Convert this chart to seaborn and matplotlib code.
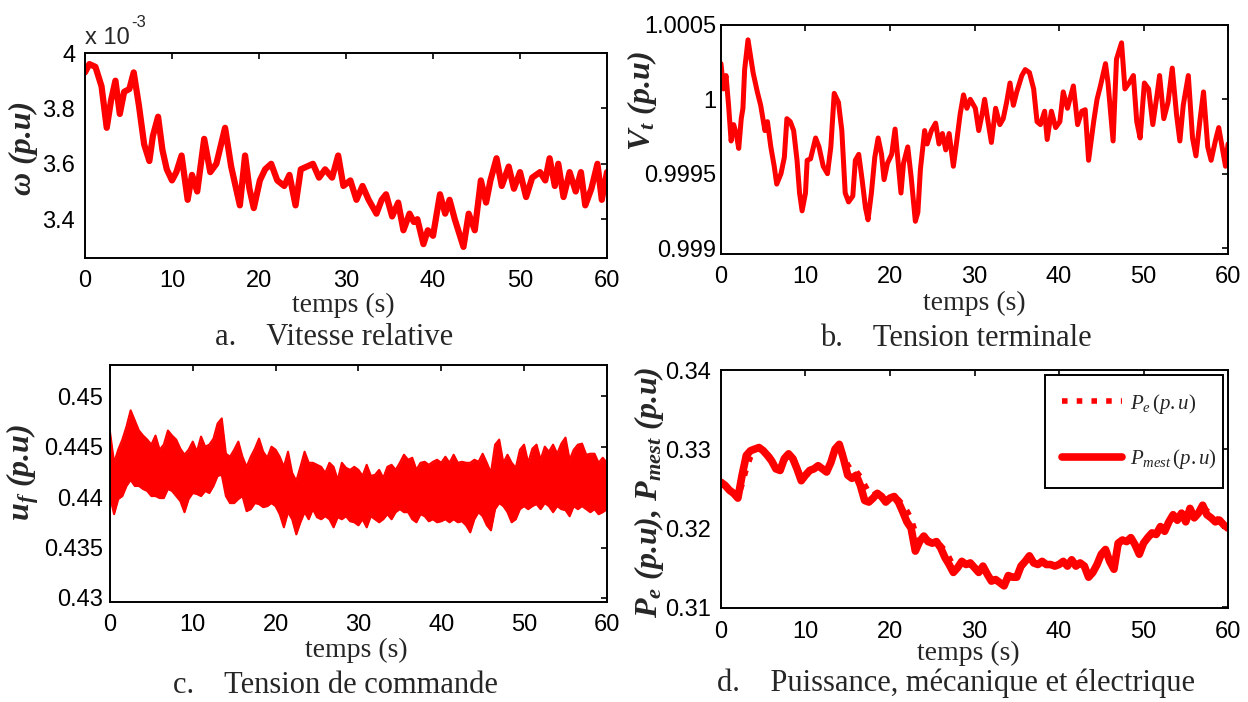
import numpy as np
import matplotlib
matplotlib.use('Agg')
import matplotlib.pyplot as plt
import seaborn as sns

# a. Vitesse relative  (omega, in units of 1e-3 p.u.)
a_t = [0, 0.5, 1.2, 1.9, 2.5, 3.0, 3.5, 4.0, 4.5, 5.1,
       5.6, 6.2, 6.8, 7.4, 7.8, 8.4, 8.9, 9.4, 10.0, 10.5,
       11.1, 11.8, 12.3, 12.9, 13.7, 14.4, 15.1, 16.1, 16.8, 17.3,
       17.8, 18.4, 18.9, 19.4, 20.1, 20.7, 21.4, 22.1, 22.9, 23.5,
       24.2, 24.8, 25.5, 26.2, 26.9, 27.6, 28.4, 29.1, 29.7, 30.5,
       31.2, 31.9, 32.6, 33.5, 34.1, 34.6, 35.3, 36.0, 36.6, 37.3,
       37.8, 38.2, 38.9, 39.4, 40.0, 40.8, 41.4, 41.9, 42.5, 43.0,
       43.5, 44.1, 44.8, 45.5, 46.1, 46.6, 47.3, 47.9, 48.7, 49.3,
       50.0, 50.7, 51.4, 52.3, 52.9, 53.4, 54.0, 54.4, 55.0, 55.7,
       56.4, 57.0, 57.5, 58.2, 58.9, 59.4, 60.0]
a_w = [3.93, 3.96, 3.95, 3.88, 3.73, 3.83, 3.90, 3.78, 3.86, 3.87,
       3.93, 3.81, 3.67, 3.61, 3.70, 3.77, 3.65, 3.58, 3.54, 3.57,
       3.63, 3.47, 3.56, 3.50, 3.69, 3.57, 3.60, 3.73, 3.59, 3.52,
       3.45, 3.63, 3.51, 3.44, 3.54, 3.58, 3.60, 3.54, 3.52, 3.56,
       3.45, 3.58, 3.59, 3.60, 3.55, 3.58, 3.55, 3.63, 3.52, 3.54,
       3.47, 3.52, 3.47, 3.42, 3.47, 3.49, 3.41, 3.46, 3.36, 3.42,
       3.39, 3.40, 3.31, 3.36, 3.34, 3.49, 3.42, 3.47, 3.40, 3.35,
       3.30, 3.42, 3.36, 3.54, 3.46, 3.54, 3.62, 3.52, 3.59, 3.51,
       3.57, 3.48, 3.55, 3.57, 3.54, 3.62, 3.52, 3.60, 3.48, 3.57,
       3.50, 3.57, 3.45, 3.51, 3.60, 3.47, 3.57]

# b. Tension terminale
b_t = [0, 0.3, 0.6, 0.9, 1.2, 1.5, 1.8, 2.1, 2.4, 2.6,
       2.8, 3.2, 3.5, 3.8, 4.3, 4.7, 5.2, 5.5, 5.9, 6.3,
       6.6, 7.1, 7.5, 7.8, 8.2, 8.6, 9.0, 9.3, 9.6, 10.0,
       10.2, 10.6, 11.2, 11.6, 12.1, 12.6, 13.0, 13.4, 13.9, 14.3,
       14.7, 15.1, 15.6, 15.9, 16.3, 16.7, 17.1, 17.4, 17.8, 18.2,
       18.6, 19.0, 19.3, 19.7, 20.2, 20.6, 21.0, 21.3, 21.6, 22.1,
       22.5, 23.0, 23.3, 23.6, 24.1, 24.4, 24.9, 25.4, 25.8, 26.2,
       26.6, 27.0, 27.5, 27.9, 28.3, 28.7, 29.1, 29.5, 30.1, 30.5,
       30.9, 31.2, 31.6, 32.0, 32.5, 33.0, 33.4, 33.8, 34.2, 34.6,
       35.0, 35.6, 36.0, 36.5, 37.0, 37.4, 37.8, 38.3, 38.6, 39.1,
       39.6, 40.1, 40.5, 41.0, 41.7, 42.2, 42.7, 43.1, 43.5, 44.1,
       44.5, 44.9, 45.5, 45.8, 46.4, 46.8, 47.4, 47.8, 48.3, 48.8,
       49.2, 49.6, 50.1, 50.6, 51.1, 51.6, 51.9, 52.4, 52.9, 53.4,
       53.9, 54.3, 54.7, 55.3, 55.8, 56.2, 56.7, 57.1, 57.6, 58.0,
       58.5, 58.9, 59.3, 59.7, 60.0]
b_v = [1.00024, 1.00007, 1.00016, 0.99996, 0.99972, 0.99983, 0.99977, 0.99967, 0.99987, 0.99994,
       1.00020, 1.00040, 1.00029, 1.00018, 1.00005, 0.99996, 0.99979, 0.99985, 0.99968, 0.99955,
       0.99943, 0.99950, 0.99961, 0.99987, 0.99985, 0.99979, 0.99959, 0.99937, 0.99925, 0.99937,
       0.99959, 0.99960, 0.99974, 0.99968, 0.99955, 0.99950, 0.99968, 1.00004, 0.99998, 0.99979,
       0.99937, 0.99931, 0.99935, 0.99959, 0.99963, 0.99946, 0.99927, 0.99919, 0.99937, 0.99961,
       0.99974, 0.99963, 0.99946, 0.99957, 0.99963, 0.99980, 0.99955, 0.99937, 0.99957, 0.99968,
       0.99948, 0.99918, 0.99924, 0.99953, 0.99979, 0.99970, 0.99979, 0.99984, 0.99970, 0.99977,
       0.99966, 0.99977, 0.99955, 0.99972, 0.99990, 1.00003, 0.99994, 1.00000, 0.99994, 0.99979,
       0.99990, 1.00000, 0.99985, 0.99971, 0.99994, 0.99983, 0.99987, 0.99998, 1.00011, 0.99996,
       1.00005, 1.00016, 1.00020, 1.00018, 1.00007, 0.99985, 0.99983, 0.99992, 0.99973, 0.99992,
       0.99981, 0.99985, 1.00005, 0.99994, 1.00009, 0.99983, 0.99992, 0.99993, 0.99959, 0.99985,
       1.00000, 1.00009, 1.00024, 1.00011, 0.99972, 1.00027, 1.00038, 1.00007, 1.00011, 1.00016,
       0.99985, 0.99974, 1.00011, 1.00007, 0.99983, 1.00003, 1.00016, 0.99987, 0.99998, 1.00021,
       0.99990, 0.99972, 0.99996, 1.00016, 0.99974, 0.99962, 0.99987, 1.00005, 0.99968, 0.99959,
       0.99972, 0.99981, 0.99968, 0.99955, 0.99970]

# c. Tension de commande (upper / lower swing of the oscillation, every 0.5 s)
c_t = np.arange(0, 60.5, 0.5)
c_upper = [0.4465, 0.4434, 0.4447, 0.4457, 0.4470, 0.4486, 0.4476, 0.4466, 0.4461, 0.4457,
           0.4452, 0.4461, 0.4447, 0.4452, 0.4466, 0.4461, 0.4457, 0.4448, 0.4442, 0.4447,
           0.4455, 0.4445, 0.4460, 0.4450, 0.4452, 0.4458, 0.4473, 0.4478, 0.4443, 0.4440,
           0.4447, 0.4455, 0.4440, 0.4430, 0.4440, 0.4448, 0.4458, 0.4445, 0.4439, 0.4450,
           0.4447, 0.4440, 0.4430, 0.4445, 0.4424, 0.4416, 0.4430, 0.4445, 0.4434, 0.4434,
           0.4432, 0.4430, 0.4424, 0.4434, 0.4430, 0.4417, 0.4434, 0.4429, 0.4427, 0.4430,
           0.4427, 0.4421, 0.4432, 0.4421, 0.4422, 0.4427, 0.4419, 0.4430, 0.4432, 0.4427,
           0.4434, 0.4442, 0.4437, 0.4439, 0.4427, 0.4434, 0.4435, 0.4432, 0.4435, 0.4437,
           0.4434, 0.4440, 0.4434, 0.4442, 0.4434, 0.4435, 0.4434, 0.4434, 0.4437, 0.4435,
           0.4443, 0.4434, 0.4424, 0.4452, 0.4457, 0.4434, 0.4442, 0.4434, 0.4429, 0.4447,
           0.4452, 0.4434, 0.4448, 0.4452, 0.4437, 0.4450, 0.4445, 0.4452, 0.4443, 0.4453,
           0.4459, 0.4437, 0.4447, 0.4452, 0.4453, 0.4442, 0.4443, 0.4443, 0.4434, 0.4439,
           0.4434]
c_lower = [0.4401, 0.4383, 0.4398, 0.4401, 0.4411, 0.4417, 0.4411, 0.4411, 0.4408, 0.4406,
           0.4401, 0.4401, 0.4399, 0.4399, 0.4408, 0.4406, 0.4401, 0.4396, 0.4385, 0.4398,
           0.4404, 0.4403, 0.4401, 0.4406, 0.4404, 0.4411, 0.4421, 0.4422, 0.4401, 0.4394,
           0.4394, 0.4398, 0.4401, 0.4386, 0.4388, 0.4394, 0.4393, 0.4390, 0.4391, 0.4394,
           0.4391, 0.4383, 0.4370, 0.4385, 0.4378, 0.4363, 0.4375, 0.4385, 0.4378, 0.4388,
           0.4380, 0.4378, 0.4381, 0.4378, 0.4370, 0.4380, 0.4378, 0.4381, 0.4376, 0.4375,
           0.4372, 0.4378, 0.4370, 0.4381, 0.4378, 0.4375, 0.4378, 0.4383, 0.4378, 0.4385,
           0.4388, 0.4385, 0.4385, 0.4378, 0.4375, 0.4383, 0.4381, 0.4376, 0.4378, 0.4375,
           0.4376, 0.4378, 0.4375, 0.4378, 0.4375, 0.4376, 0.4372, 0.4365, 0.4378, 0.4385,
           0.4381, 0.4372, 0.4367, 0.4388, 0.4394, 0.4391, 0.4385, 0.4375, 0.4378, 0.4388,
           0.4391, 0.4388, 0.4391, 0.4393, 0.4388, 0.4394, 0.4391, 0.4385, 0.4391, 0.4388,
           0.4387, 0.4381, 0.4391, 0.4388, 0.4391, 0.4388, 0.4385, 0.4388, 0.4383, 0.4385,
           0.4388]

# d. Puissance mecanique et electrique (every 0.5 s)
d_t = np.arange(0, 60.5, 0.5)
p_mest = [0.3258, 0.3254, 0.3248, 0.3244, 0.3238, 0.3267, 0.3292, 0.3298, 0.3300, 0.3302,
          0.3298, 0.3292, 0.3285, 0.3275, 0.3273, 0.3288, 0.3294, 0.3288, 0.3275, 0.3260,
          0.3267, 0.3273, 0.3275, 0.3279, 0.3275, 0.3271, 0.3283, 0.3300, 0.3306, 0.3288,
          0.3267, 0.3263, 0.3267, 0.3254, 0.3235, 0.3233, 0.3238, 0.3244, 0.3240, 0.3233,
          0.3238, 0.3240, 0.3233, 0.3221, 0.3208, 0.3200, 0.3171, 0.3183, 0.3190, 0.3183,
          0.3181, 0.3183, 0.3175, 0.3163, 0.3154, 0.3144, 0.3150, 0.3158, 0.3154, 0.3156,
          0.3150, 0.3144, 0.3152, 0.3142, 0.3133, 0.3135, 0.3131, 0.3127, 0.3140, 0.3138,
          0.3138, 0.3152, 0.3158, 0.3165, 0.3156, 0.3154, 0.3158, 0.3154, 0.3154, 0.3152,
          0.3154, 0.3158, 0.3152, 0.3160, 0.3152, 0.3156, 0.3152, 0.3138, 0.3144, 0.3154,
          0.3167, 0.3173, 0.3158, 0.3148, 0.3181, 0.3185, 0.3183, 0.3188, 0.3179, 0.3167,
          0.3181, 0.3188, 0.3194, 0.3192, 0.3202, 0.3196, 0.3208, 0.3217, 0.3210, 0.3219,
          0.3208, 0.3225, 0.3213, 0.3219, 0.3229, 0.3217, 0.3213, 0.3208, 0.3210, 0.3204,
          0.3200]
p_e = [0.3258, 0.3254, 0.3248, 0.3244, 0.3240, 0.3255, 0.3275, 0.3290, 0.3298, 0.3302,
       0.3299, 0.3294, 0.3287, 0.3278, 0.3274, 0.3285, 0.3295, 0.3290, 0.3278, 0.3263,
       0.3265, 0.3272, 0.3276, 0.3279, 0.3276, 0.3272, 0.3281, 0.3298, 0.3305, 0.3292,
       0.3280, 0.3272, 0.3272, 0.3265, 0.3255, 0.3245, 0.3242, 0.3245, 0.3242, 0.3236,
       0.3238, 0.3241, 0.3236, 0.3230, 0.3222, 0.3212, 0.3195, 0.3185, 0.3190, 0.3185,
       0.3182, 0.3184, 0.3178, 0.3172, 0.3163, 0.3152, 0.3150, 0.3157, 0.3155, 0.3156,
       0.3151, 0.3146, 0.3151, 0.3144, 0.3135, 0.3135, 0.3132, 0.3129, 0.3138, 0.3139,
       0.3139, 0.3150, 0.3157, 0.3164, 0.3157, 0.3155, 0.3157, 0.3155, 0.3154, 0.3153,
       0.3154, 0.3157, 0.3153, 0.3159, 0.3153, 0.3156, 0.3153, 0.3141, 0.3144, 0.3153,
       0.3165, 0.3172, 0.3160, 0.3150, 0.3178, 0.3185, 0.3183, 0.3187, 0.3180, 0.3169,
       0.3180, 0.3187, 0.3193, 0.3193, 0.3201, 0.3197, 0.3207, 0.3216, 0.3211, 0.3218,
       0.3210, 0.3223, 0.3215, 0.3219, 0.3228, 0.3222, 0.3218, 0.3212, 0.3211, 0.3206,
       0.3202]

x_ticks = [0, 10, 20, 30, 40, 50, 60]

sns.set_theme(style='white')
plt.rcParams['font.family'] = ['Liberation Sans', 'DejaVu Sans']
plt.rcParams['mathtext.fontset'] = 'custom'
plt.rcParams['mathtext.rm'] = 'Liberation Serif'
plt.rcParams['mathtext.it'] = 'Liberation Serif:italic'
plt.rcParams['mathtext.bf'] = 'Liberation Serif:bold:italic'
plt.rcParams['axes.linewidth'] = 1.4
plt.rcParams['axes.edgecolor'] = 'black'

RED = '#ff0000'
lab_font = dict(family='Liberation Serif', size=20)
ylab_font = dict(family='Liberation Serif', size=23, weight='bold', style='italic')

fig = plt.figure(figsize=(12.48, 7.02), dpi=100)
ax_a = fig.add_axes([0.0681, 0.6325, 0.4183, 0.2920])
ax_b = fig.add_axes([0.5777, 0.6382, 0.4063, 0.3262])
ax_c = fig.add_axes([0.0881, 0.1425, 0.3982, 0.3376])
ax_d = fig.add_axes([0.5777, 0.1339, 0.4063, 0.3390])

sns.lineplot(x=a_t, y=a_w, ax=ax_a, color=RED, lw=4.5, errorbar=None)
sns.lineplot(x=b_t, y=b_v, ax=ax_b, color=RED, lw=3.6, errorbar=None)
ax_c.fill_between(c_t, c_lower, c_upper, color=RED, lw=0)
sns.lineplot(x=c_t, y=c_upper, ax=ax_c, color=RED, lw=1.5, errorbar=None)
sns.lineplot(x=c_t, y=c_lower, ax=ax_c, color=RED, lw=1.5, errorbar=None)
sns.lineplot(x=d_t, y=p_e, ax=ax_d, color=RED, lw=4, linestyle=':',
             errorbar=None, label=r'$P_e\,(p.u)$')
sns.lineplot(x=d_t, y=p_mest, ax=ax_d, color=RED, lw=5.5,
             errorbar=None, label=r'$P_{mest}\,(p.u)$')

ax_a.set_ylim(3.26, 4.0)
ax_a.set_yticks([3.4, 3.6, 3.8, 4.0])
ax_b.set_ylim(0.99896, 1.0005)
ax_b.set_yticks([0.999, 0.9995, 1.0, 1.0005])
ax_c.set_ylim(0.4296, 0.4531)
ax_c.set_yticks([0.43, 0.435, 0.44, 0.445, 0.45])
ax_d.set_ylim(0.3099, 0.34)
ax_d.set_yticks([0.31, 0.32, 0.33, 0.34])

ylabels = [r'ω (p.u)', r'$\mathbf{V_t}$ (p.u)', r'$\mathbf{u_f}$ (p.u)',
           r'$\mathbf{P_e}$ (p.u), $\mathbf{P_{mest}}$ (p.u)']
ylab_pos = [(-0.117, 0.537), (-0.156, 0.668), (-0.175, 0.549), (-0.142, 0.487)]
xlab_pos = [(0.494, -0.232), (0.50, -0.216), (0.495, -0.205), (0.487, -0.19)]
ypads = [7, 3.5, 5, 7]

for ax, yl, yp, xp, pad in zip([ax_a, ax_b, ax_c, ax_d], ylabels, ylab_pos, xlab_pos, ypads):
    ax.set_xlim(0, 60)
    ax.set_xticks(x_ticks)
    ax.yaxis.set_major_formatter(matplotlib.ticker.StrMethodFormatter('{x:g}'))
    ax.tick_params(direction='in', top=True, right=True, length=4, width=1.2,
                   labelsize=17, colors='black')
    ax.tick_params(axis='x', pad=9)
    ax.tick_params(axis='y', pad=pad)
    ax.set_xlabel('temps (s)', **lab_font)
    ax.xaxis.label.set_va('center')
    ax.xaxis.set_label_coords(*xp)
    ax.set_ylabel(yl, **ylab_font)
    ax.yaxis.label.set_va('center')
    ax.yaxis.set_label_coords(*yp)
    for sp in ax.spines.values():
        sp.set_color('black')
        sp.set_linewidth(1.4)

# multiplier shown above panel a
ax_a.text(0.0, 1.045, 'x 10', transform=ax_a.transAxes, fontsize=17, va='baseline')
ax_a.text(0.088, 1.125, '-3', transform=ax_a.transAxes, fontsize=12, va='baseline')

leg = ax_d.legend(loc='upper left', bbox_to_anchor=(0.639, 0.517, 0.351, 0.462),
                  mode='expand', borderaxespad=0,
                  prop=dict(family='Liberation Serif', size=15, style='italic'),
                  handlelength=2.9, handletextpad=0.4, labelspacing=1.5, borderpad=0.8,
                  fancybox=False, framealpha=1, edgecolor='black')
leg.get_frame().set_linewidth(1.4)

cap_font = dict(family='Liberation Serif', size=22, ha='center', va='center')
fig.text(0.268, 0.519, 'a.    Vitesse relative', **cap_font)
fig.text(0.766, 0.518, 'b.    Tension terminale', **cap_font)
fig.text(0.269, 0.023, 'c.    Tension de commande', **cap_font)
fig.text(0.766, 0.027, 'd.    Puissance, mécanique et électrique', **cap_font)

fig.savefig('out.png', dpi=100, facecolor='white')
